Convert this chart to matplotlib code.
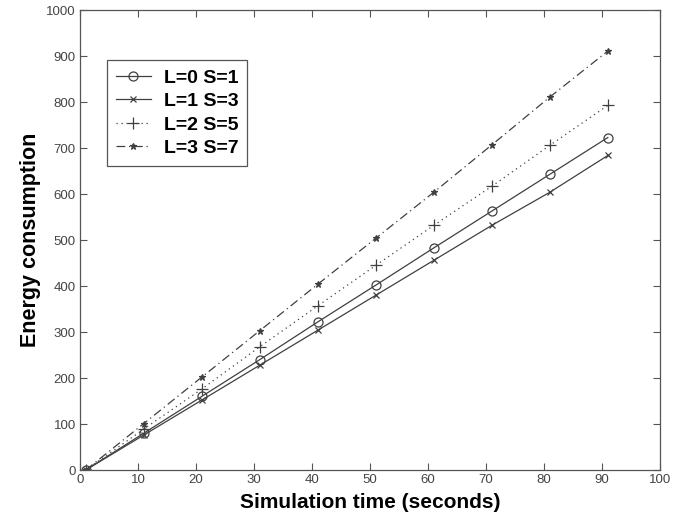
import matplotlib
matplotlib.use("Agg")
import matplotlib.pyplot as plt

plt.rcParams["font.family"] = ["Liberation Sans", "DejaVu Sans"]

time_s = [1, 11, 21, 31, 41, 51, 61, 71, 81, 91]
labels = ["L=0 S=1", "L=1 S=3", "L=2 S=5", "L=3 S=7"]
energy_l0 = [0, 80, 160, 240, 322, 402, 483, 563, 643, 723]
energy_l1 = [0, 76, 152, 228, 304, 380, 456, 532, 604, 684]
energy_l2 = [0, 89, 176, 268, 357, 445, 532, 617, 706, 793]
energy_l3 = [0, 101, 202, 303, 404, 504, 604, 707, 811, 911]

styles = [
    dict(linestyle="-", marker="o", markersize=6.5, markerfacecolor="none"),
    dict(linestyle="-", marker="x", markersize=5),
    dict(linestyle=(0, (1, 3)), marker="+", markersize=8),
    dict(linestyle=(0, (7, 3, 1, 3)), marker="*", markersize=5),
]

fig = plt.figure(figsize=(6.8, 5.19), dpi=100)
ax = fig.add_axes([0.1176, 0.0944, 0.853, 0.886])

for series, label, style in zip([energy_l0, energy_l1, energy_l2, energy_l3], labels, styles):
    ax.plot(time_s, series, color="#404040", linewidth=0.9, markeredgewidth=0.9,
            label=label, **style)

ax.set_xlim(0, 100)
ax.set_ylim(0, 1000)
ax.set_xticks(range(0, 101, 10))
ax.set_yticks(range(0, 1001, 100))
ax.tick_params(direction="in", top=True, right=True, length=5, width=0.8,
               colors="#555555", labelsize=9.5, labelcolor="#444444", pad=3)
for spine in ax.spines.values():
    spine.set_color("#555555")
    spine.set_linewidth(0.9)

ax.set_xlabel("Simulation time (seconds)", fontsize=15, fontweight="bold", labelpad=5)
ax.set_ylabel("Energy consumption", fontsize=15.5, fontweight="bold", labelpad=4)

leg = ax.legend(loc="upper left", bbox_to_anchor=(0.047, 0.891), borderaxespad=0,
                fancybox=False, edgecolor="#555555", framealpha=1,
                prop={"size": 14, "weight": "bold"},
                handlelength=1.8, labelspacing=0.3, borderpad=0.45, handletextpad=0.65)
leg.get_frame().set_linewidth(0.9)

fig.savefig("out.png", dpi=100)
